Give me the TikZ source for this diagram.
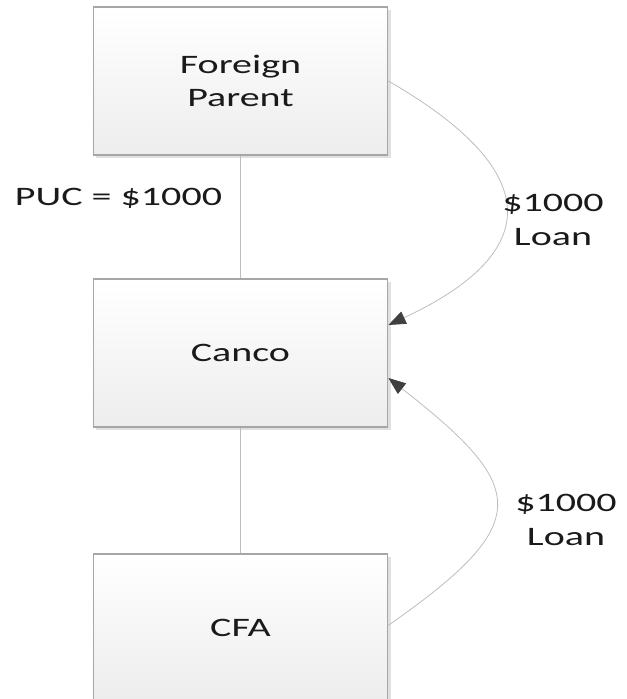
\documentclass[tikz,border=0pt]{standalone}
\usepackage{fontspec}
\setmainfont{Carlito}[FakeStretch=1.5]
\usetikzlibrary{arrows.meta,shadows}

\definecolor{boxline}{HTML}{A6A6A6}
\definecolor{boxbottom}{HTML}{EDEDED}
\definecolor{linkline}{HTML}{BDBDBD}
\definecolor{tipfill}{HTML}{404040}
\definecolor{inkc}{HTML}{1A1A1A}

\tikzset{
  entity/.style={draw=boxline, line width=0.8pt, top color=white, bottom color=boxbottom,
    minimum width=221pt, minimum height=111pt, inner sep=0pt, align=center,
    drop shadow={shadow xshift=2pt, shadow yshift=-2pt, fill=black!12, opacity=1},
    font=\fontsize{20}{25}\selectfont, text=inkc},
  link/.style={draw=linkline, line width=0.6pt},
  loan/.style={link, -{Triangle[length=13pt,width=10pt,fill=tipfill,color=tipfill]}},
  caption/.style={font=\fontsize{20}{25}\selectfont, text=inkc, align=center, inner sep=0pt}
}

\begin{document}
\begin{tikzpicture}[x=0.75pt, y=-0.75pt]
  \useasboundingbox (0,0) rectangle (627,699);

  % ownership chain
  \node[entity] (fp) at (240.5,81) {Foreign\\Parent};
  \node[entity] (canco) at (240.5,353) {Canco};
  \node[entity] (cfa) at (240.5,628) {CFA};

  \draw[link] (fp.south) -- (canco.north);
  \draw[link] (canco.south) -- (cfa.north);

  \node[caption] (puc) at (118.5,198) {PUC = \$1000};

  % loans into Canco
  \coordinate (in1) at ([yshift=21pt]canco.east);
  \coordinate (in2) at ([yshift=-18.75pt]canco.east);
  \coordinate (out2) at ([yshift=2pt]cfa.east);

  \draw[loan] (fp.east) to[out=-30, in=25, looseness=1.85] (in1);
  \draw[loan] (out2) to[out=35, in=-38, looseness=1.85] (in2);

  \node[caption] (loan1) at (553,220) {\$1000\\Loan};
  \node[caption] (loan2) at (566,520) {\$1000\\Loan};
\end{tikzpicture}
\end{document}
